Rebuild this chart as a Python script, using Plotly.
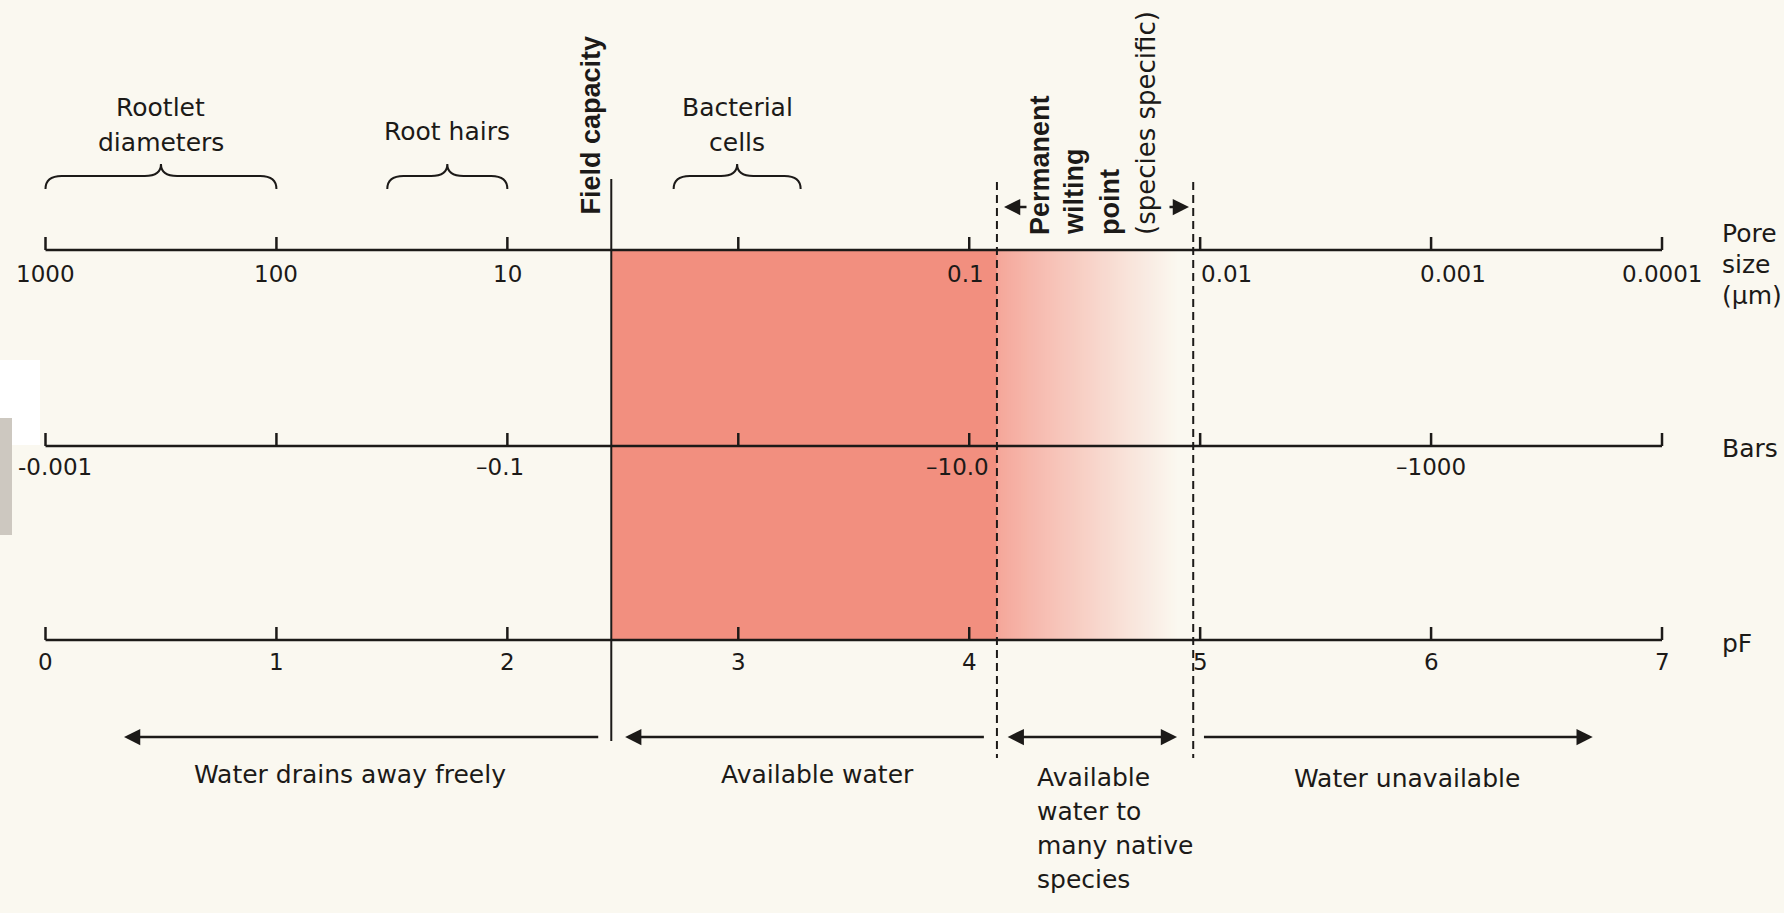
import plotly.graph_objects as go
import numpy as np

# ---------------- data ----------------
pf_ticks = [0, 1, 2, 3, 4, 5, 6, 7]
pore_labels = ["1000", "100", "10", "", "0.1", "0.01", "0.001", "0.0001"]
bar_labels = ["-0.001", "", "–0.1", "", "–10.0", "", "–1000", ""]
pf_labels = ["0", "1", "2", "3", "4", "5", "6", "7"]
axis_titles = [["Pore", "size", "(μm)"], ["Bars"], ["pF"]]

field_capacity = 2.45          # pF
wilting_low = 4.12             # pF (permanent wilting point, lower)
wilting_high = 4.97            # pF (permanent wilting point, upper)

brace_texts = [["Rootlet", "diameters"], ["Root hairs"], ["Bacterial", "cells"]]
brace_start = [0.0, 1.48, 2.72]
brace_end = [1.0, 2.0, 3.27]

zone_texts = [["Water drains away freely"], ["Available water"],
              ["Available", "water to", "many native", "species"], ["Water unavailable"]]
zone_from = [2.40, 4.07, 4.16, 5.01]
zone_to = [0.34, 2.51, 4.90, 6.70]
zone_double = [False, False, True, False]

wilting_texts = ["<b>Permanent</b>", "<b>wilting</b>", "<b>point</b>", "(species specific)"]

# ---------------- styling / geometry ----------------
W, H = 1784, 913
X0, SC = 45.5, 230.93          # pixel of pF 0 and pixels per pF unit
def px2pf(p):
    return (p - X0) / SC

BG = "rgb(250,248,240)"
INK = "#1c1a18"
RED = "rgb(242,143,127)"
RED2 = (245, 166, 153)
BGc = (250, 248, 240)
FONT = "DejaVu Sans, Verdana, sans-serif"
BFONT = "Liberation Sans, Arial, sans-serif"
FS = 25
TFS = 23
BFS = 27

y_pore, y_bars, y_pf = 250, 446, 640
axis_rows = [y_pore, y_bars, y_pf]
tick_len = 13

fig = go.Figure()

# red solid region
shapes = [dict(type="rect", xref="x", yref="y", x0=field_capacity, x1=wilting_low,
               y0=y_pore, y1=y_pf, fillcolor=RED, line=dict(width=0), layer="below")]

# gradient region (heatmap)
n = 90
edges = np.linspace(wilting_low, wilting_high - 0.06, n + 1)
t = np.linspace(0, 1, n) ** 0.9
fig.add_trace(go.Heatmap(
    x=edges, y=[y_pore, y_pf], z=[t],
    colorscale=[[0, "rgb(%d,%d,%d)" % RED2], [1, "rgb(%d,%d,%d)" % BGc]],
    showscale=False, hoverinfo="skip", zmin=0, zmax=1))

# little grey scan patch at left edge
shapes.append(dict(type="rect", xref="paper", yref="y", x0=0, x1=40 / W, y0=360, y1=445,
                   fillcolor="white", line=dict(width=0), layer="below"))
shapes.append(dict(type="rect", xref="paper", yref="y", x0=0, x1=12 / W, y0=418, y1=535,
                   fillcolor="rgb(205,200,192)", line=dict(width=0), layer="below"))

# axes lines + ticks
for yy in axis_rows:
    xs, ys = [pf_ticks[0], pf_ticks[-1], None], [yy, yy, None]
    for p in pf_ticks:
        xs += [p, p, None]
        ys += [yy, yy - tick_len, None]
    fig.add_trace(go.Scatter(x=xs, y=ys, mode="lines", line=dict(color=INK, width=2.5),
                             hoverinfo="skip"))

# field capacity line
fig.add_trace(go.Scatter(x=[field_capacity, field_capacity], y=[179, 741], mode="lines",
                         line=dict(color=INK, width=2), hoverinfo="skip"))
# wilting dashed lines
for xv in [wilting_low, wilting_high]:
    fig.add_trace(go.Scatter(x=[xv, xv], y=[182, 758], mode="lines",
                             line=dict(color=INK, width=2, dash="8px,5px"), hoverinfo="skip"))

ann = []
def text(x, y, s, size=FS, xanchor="center", yanchor="middle", angle=0, xshift=0, family=FONT):
    ann.append(dict(x=x, y=y, xref="x", yref="y", text=s, showarrow=False,
                    font=dict(family=family, size=size, color=INK), xanchor=xanchor,
                    yanchor=yanchor, textangle=angle, xshift=xshift))

# tick labels
pore_shift = [0, 0, 0, 0, -4, 26, 22, 0]
bar_shift = [9, 0, -7, 0, -12, 0, 0, 0]
for p, lab, s in zip(pf_ticks, pore_labels, pore_shift):
    if lab:
        text(p, y_pore + 24, lab, TFS, xshift=s)
for p, lab, s in zip(pf_ticks, bar_labels, bar_shift):
    if lab:
        text(p, y_bars + 21, lab, TFS, xshift=s)
for p, lab in zip(pf_ticks, pf_labels):
    text(p, y_pf + 22, lab, TFS)

# axis titles at right
title_x = px2pf(1720)
for lines, yy in zip(axis_titles, [y_pore - 17, y_bars + 2, y_pf + 3]):
    for i, s in enumerate(lines):
        text(title_x, yy + i * 31, s, FS, xanchor="left")

# braces
for x0b, x1b, lines in zip(brace_start, brace_end, brace_texts):
    xm = (x0b + x1b) / 2
    d = 0.07
    yb, yh, yc = 189, 176, 164
    path = (f"M {x0b},{yb} Q {x0b},{yh} {x0b + d},{yh} L {xm - d},{yh} "
            f"Q {xm},{yh} {xm},{yc} Q {xm},{yh} {xm + d},{yh} L {x1b - d},{yh} "
            f"Q {x1b},{yh} {x1b},{yb}")
    shapes.append(dict(type="path", xref="x", yref="y", path=path,
                       line=dict(color=INK, width=2)))
    if len(lines) == 2:
        text(xm, 107, lines[0])
        text(xm, 142, lines[1])
    else:
        text(xm, 131, lines[0])

# field capacity label
text(px2pf(590), 217, "<b>Field capacity</b>", BFS, yanchor="bottom", angle=-90, family=BFONT)

# permanent wilting point labels
for xp, s in zip([1040, 1074, 1110, 1146], wilting_texts):
    if s.startswith("<b>"):
        text(px2pf(xp), 237, s, BFS, yanchor="bottom", angle=-90, family=BFONT)
    else:
        text(px2pf(xp), 237, s, 26, yanchor="bottom", angle=-90)

def arrow(x_head, x_tail, y, start=False):
    ann.append(dict(x=x_head, y=y, ax=x_tail, ay=y, xref="x", yref="y", axref="x", ayref="y",
                    text="", showarrow=True, arrowhead=2, arrowsize=1.3, arrowwidth=2.5,
                    startarrowhead=2, startarrowsize=1.3,
                    arrowside="end+start" if start else "end", arrowcolor=INK,
                    standoff=0, startstandoff=0))

# small arrows beside wilting text
arrow(px2pf(1004), px2pf(1028), 207)
arrow(px2pf(1189), px2pf(1168), 207)

# bottom zone arrows and labels
for xf, xt, dbl in zip(zone_from, zone_to, zone_double):
    arrow(xt, xf, 737, start=dbl)
text((zone_from[0] + zone_to[0]) / 2 - 0.05, 774, zone_texts[0][0])
text(px2pf(817), 774, zone_texts[1][0])
for i, s in enumerate(zone_texts[2]):
    text(px2pf(1035), 777 + i * 34, s, xanchor="left")
text(px2pf(1407), 778, zone_texts[3][0])

fig.update_layout(
    width=W, height=H, margin=dict(l=0, r=0, t=0, b=0),
    paper_bgcolor=BG, plot_bgcolor=BG, showlegend=False,
    xaxis=dict(range=[px2pf(0), px2pf(W)], visible=False, fixedrange=True),
    yaxis=dict(range=[H, 0], visible=False, fixedrange=True),
    shapes=shapes, annotations=ann,
)

fig.write_html("out.html", post_script="document.body.style.margin='0';",
               config={"displayModeBar": False})
